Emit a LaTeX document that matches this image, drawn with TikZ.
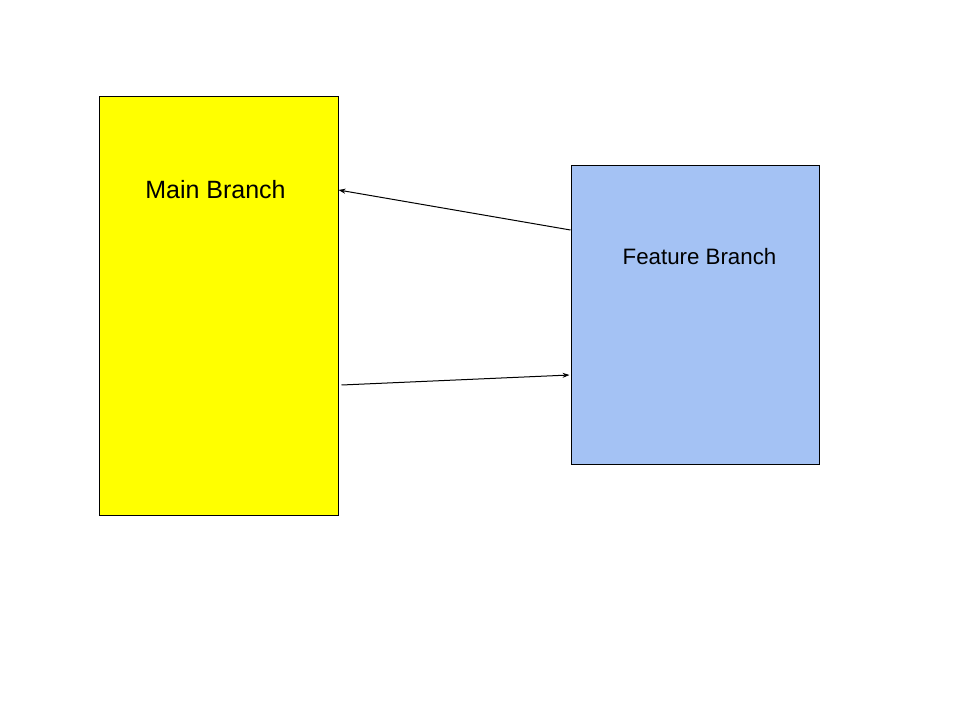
\documentclass[tikz,border=0pt]{standalone}
\usepackage{fontspec}
\setmainfont{Liberation Sans}
\usetikzlibrary{arrows.meta,positioning,calc}
\definecolor{mainfill}{RGB}{255,255,0}
\definecolor{featurefill}{RGB}{164,194,244}

\begin{document}
\begin{tikzpicture}[
    x=1pt, y=-1pt,
    box/.style={draw=black, line width=1pt, inner sep=0pt},
    arrow/.style={-{Stealth[length=7pt,width=5pt]}, line width=1pt},
    label/.style={font=\fontsize{25}{29}\selectfont}
]
    \useasboundingbox (0,0) rectangle (960,720);

    % Branch boxes
    \node[box, fill=mainfill, minimum width=239pt, minimum height=419pt] (main) at (218.5,305.5) {};
    \node[box, fill=featurefill, minimum width=248pt, minimum height=299pt] (feature) at (695,314.5) {};

    % Labels
    \node[label] (mainlabel) at (215.5,190) {Main Branch};
    \node[label, font=\fontsize{22.3}{26}\selectfont] (featurelabel) at (699.5,257) {Feature Branch};

    % Connections
    \coordinate (mergefrom) at (feature.west |- 0,230);
    \coordinate (mergeto) at (main.east |- 0,190);
    \coordinate (branchfrom) at ($(main.east |- 0,385)+(3,0)$);
    \coordinate (branchto) at ($(feature.west |- 0,375)+(-1,0)$);
    \draw[arrow] (mergefrom) -- (mergeto);
    \draw[arrow] (branchfrom) -- (branchto);
\end{tikzpicture}
\end{document}
